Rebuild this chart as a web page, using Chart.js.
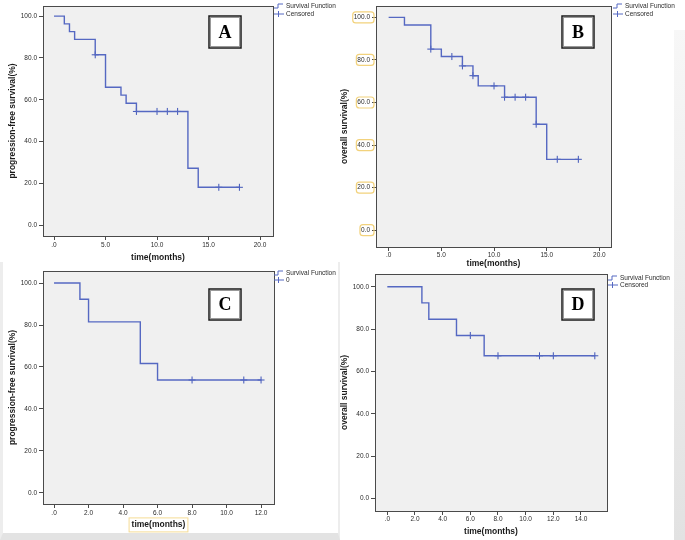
<!DOCTYPE html>
<html>
<head>
<meta charset="utf-8">
<script src="https://cdn.jsdelivr.net/npm/chart.js@4/dist/chart.umd.min.js"></script>
<style>
  body { margin: 0; background: #fff; }
  #wrap { position: relative; width: 685px; height: 540px; overflow: hidden; background: #fff; }
  canvas { position: absolute; }
  #c-frame { position: absolute; left: 0; top: 262px; width: 335px; height: 271px; border-left: 3px solid #ededed; border-bottom: 7px solid #e3e3e3; border-right: 2px solid #ededed; }
  #strip { position: absolute; left: 674px; top: 30px; width: 11px; height: 510px; background: linear-gradient(to bottom, #f7f7f7, #e2e2e2); }
</style>
</head>
<body>
<div id="wrap">
  <div id="c-frame"></div>
  <div id="strip"></div>
  <canvas id="chartA" width="340" height="268" style="left:0;top:0"></canvas>
  <canvas id="chartB" width="345" height="270" style="left:340px;top:0"></canvas>
  <canvas id="chartC" width="340" height="275" style="left:0;top:265px"></canvas>
  <canvas id="chartD" width="345" height="272" style="left:340px;top:268px"></canvas>
</div>
<script>
// Data
const yTicks = [0, 20, 40, 60, 80, 100];

// A - progression-free survival
const aTime = [0, 1, 1.5, 2, 4, 5, 6.5, 7, 8, 13, 14, 18];
const aSurv = [100, 96.3, 92.6, 88.9, 81.5, 66.0, 62.2, 58.3, 54.4, 27.2, 18.1, 18.1];
const aCensTime = [4, 8, 10, 11, 12, 16, 18];
const aCensSurv = [81.5, 54.4, 54.4, 54.4, 54.4, 18.1, 18.1];
const aXTicks = [0, 5, 10, 15, 20];

// B - overall survival
const bTime = [0, 1.5, 4, 5, 7, 8, 8.5, 11, 14, 15, 18];
const bSurv = [100, 96.4, 85.1, 81.6, 77.2, 72.6, 67.8, 62.5, 49.8, 33.3, 33.3];
const bCensTime = [4, 6, 7, 8, 10, 11, 12, 13, 14, 16, 18];
const bCensSurv = [85.1, 81.6, 77.2, 72.6, 67.8, 62.5, 62.5, 62.5, 49.8, 33.3, 33.3];
const bXTicks = [0, 5, 10, 15, 20];

// C - progression-free survival
const cTime = [0, 1.5, 2, 5, 6, 12];
const cSurv = [100, 92.3, 81.5, 61.7, 53.8, 53.8];
const cCensTime = [8, 11, 12];
const cCensSurv = [53.8, 53.8, 53.8];
const cXTicks = [0, 2, 4, 6, 8, 10, 12];

// D - overall survival
const dTime = [0, 2.5, 3, 5, 7, 15];
const dSurv = [100, 92.4, 84.7, 77.0, 67.4, 67.4];
const dCensTime = [6, 8, 11, 12, 15];
const dCensSurv = [77.0, 67.4, 67.4, 67.4, 67.4];
const dXTicks = [0, 2, 4, 6, 8, 10, 12, 14];

const BLUE = '#5568c2';
const TEXT = '#2b2b2b';
Chart.defaults.font.family = "'Liberation Sans', Arial, sans-serif";
Chart.defaults.color = TEXT;

// Draws plot background, frame, letter box, legend and highlight boxes
const kmDecor = {
    id: 'kmDecor',
    beforeDraw(chart, args, o) {
        const {ctx, chartArea: a} = chart;
        ctx.save();
        ctx.fillStyle = '#f0f0f0';
        ctx.fillRect(a.left, a.top, a.right - a.left, a.bottom - a.top);
        ctx.restore();
    },
    afterDraw(chart, args, o) {
        const {ctx, chartArea: a} = chart;
        ctx.save();
        // frame
        ctx.strokeStyle = '#4a4a4a';
        ctx.lineWidth = 1;
        ctx.strokeRect(Math.round(a.left) + 0.5, Math.round(a.top) + 0.5,
            Math.round(a.right - a.left), Math.round(a.bottom - a.top));

        // letter box
        const b = o.box;
        ctx.fillStyle = '#fff';
        ctx.fillRect(b.x, b.y, b.w, b.h);
        ctx.strokeStyle = '#999';
        ctx.lineWidth = 1;
        ctx.strokeRect(b.x + 1.5, b.y + 1.5, b.w - 3, b.h - 3);
        ctx.strokeStyle = '#1a1a1a';
        ctx.lineWidth = 1.5;
        ctx.strokeRect(b.x, b.y, b.w, b.h);
        ctx.fillStyle = '#000';
        ctx.font = "bold 18px 'Liberation Serif', 'Times New Roman', serif";
        ctx.textAlign = 'center';
        ctx.textBaseline = 'middle';
        ctx.fillText(o.letter, b.x + b.w / 2, b.y + b.h / 2 + 1);

        // legend
        const L = o.legend;
        ctx.strokeStyle = BLUE;
        ctx.lineWidth = 1;
        ctx.beginPath();
        ctx.moveTo(L.x, L.y1 + 2);
        ctx.lineTo(L.x + 4, L.y1 + 2);
        ctx.lineTo(L.x + 4, L.y1 - 2);
        ctx.lineTo(L.x + 9, L.y1 - 2);
        ctx.moveTo(L.x, L.y2);
        ctx.lineTo(L.x + 10, L.y2);
        ctx.moveTo(L.x + 4.5, L.y2 - 3);
        ctx.lineTo(L.x + 4.5, L.y2 + 3);
        ctx.stroke();
        ctx.fillStyle = TEXT;
        ctx.font = "6.5px 'Liberation Sans', Arial, sans-serif";
        ctx.textAlign = 'left';
        ctx.fillText('Survival Function', L.x + 12, L.y1);
        ctx.fillText(o.label2, L.x + 12, L.y2);

        // yellow highlight boxes round y tick labels
        if (o.yBoxes) {
            const ys = chart.scales.y;
            ctx.font = "6.5px 'Liberation Sans', Arial, sans-serif";
            ctx.strokeStyle = '#f2d27c';
            ctx.lineWidth = 1.2;
            yTicks.forEach(v => {
                const py = ys.getPixelForValue(v);
                const w = ctx.measureText(v.toFixed(1)).width;
                const right = a.left - 2;
                ctx.beginPath();
                ctx.roundRect(right - w - 5, py - 5.5, w + 5, 11, 3);
                ctx.stroke();
            });
        }
        // yellow box round x axis title
        if (o.xTitleBox) {
            const xs = chart.scales.x;
            ctx.font = "bold 8.5px 'Liberation Sans', Arial, sans-serif";
            const w = ctx.measureText('time(months)').width;
            const cx = (a.left + a.right) / 2;
            const cy = xs.bottom - o.xTitlePad - 5.1;
            ctx.strokeStyle = '#f5dc95';
            ctx.lineWidth = 1;
            ctx.strokeRect(cx - w / 2 - 2.5, cy - 7, w + 5, 14);
        }
        ctx.restore();
    }
};

function buildChart(id, o) {
    const el = document.getElementById(id);
    return new Chart(el, {
        data: {
            datasets: [{
                type: 'line',
                label: 'Survival Function',
                data: o.time.map((t, i) => ({x: t, y: o.surv[i]})),
                stepped: 'before',
                borderColor: BLUE,
                borderWidth: 1.4,
                pointRadius: 0,
                fill: false
            }, {
                type: 'scatter',
                label: o.label2,
                data: o.censTime.map((t, i) => ({x: t, y: o.censSurv[i]})),
                pointStyle: 'cross',
                pointRadius: 3.5,
                borderColor: '#3f55b8',
                borderWidth: 1,
                showLine: false
            }]
        },
        options: {
            responsive: false,
            animation: false,
            devicePixelRatio: 1,
            layout: {
                padding: {left: 0, top: o.padTop, right: o.padRight, bottom: 0}
            },
            plugins: {
                legend: {display: false},
                tooltip: {enabled: false},
                kmDecor: o
            },
            scales: {
                x: {
                    type: 'linear',
                    min: o.xMin,
                    max: o.xMax,
                    afterBuildTicks: s => { s.ticks = o.xTicks.map(v => ({value: v})); },
                    afterFit: s => { s.height = o.xH; },
                    border: {display: false},
                    grid: {drawOnChartArea: false, drawTicks: true, tickLength: 4, color: '#4a4a4a'},
                    ticks: {
                        padding: o.xTickPad,
                        maxRotation: 0,
                        color: TEXT,
                        font: {size: 6.5},
                        callback: v => v === 0 ? '.0' : v.toFixed(1)
                    },
                    title: {
                        display: true,
                        text: 'time(months)',
                        color: '#1a1a1a',
                        font: {size: 8.5, weight: 'bold'},
                        padding: {top: 0, bottom: o.xTitlePad}
                    }
                },
                y: {
                    type: 'linear',
                    min: o.yMin,
                    max: o.yMax,
                    afterBuildTicks: s => { s.ticks = yTicks.map(v => ({value: v})); },
                    afterFit: s => { s.width = o.yW; },
                    border: {display: false},
                    grid: {drawOnChartArea: false, drawTicks: true, tickLength: 4, color: '#4a4a4a'},
                    ticks: {
                        padding: 2,
                        color: TEXT,
                        font: {size: 6.5},
                        callback: v => v.toFixed(1)
                    },
                    title: {
                        display: true,
                        text: o.yTitle,
                        color: '#1a1a1a',
                        font: {size: 8.5, weight: 'bold'},
                        padding: {top: o.yTitlePad, bottom: 0}
                    }
                }
            }
        },
        plugins: [kmDecor]
    });
}

buildChart('chartA', {
    time: aTime, surv: aSurv, censTime: aCensTime, censSurv: aCensSurv, xTicks: aXTicks,
    xMin: -1.07, xMax: 21.26, yMin: -5.2, yMax: 104.9,
    yTitle: 'progression-free survival(%)', label2: 'Censored', letter: 'A',
    padTop: 3, padRight: 67, yW: 43, xH: 32, xTickPad: 1, xTitlePad: 5, yTitlePad: 8,
    box: {x: 209, y: 16, w: 32, h: 32},
    legend: {x: 274, y1: 6, y2: 14}
});

buildChart('chartB', {
    time: bTime, surv: bSurv, censTime: bCensTime, censSurv: bCensSurv, xTicks: bXTicks,
    xMin: -1.2, xMax: 21.1, yMin: -7.9, yMax: 105.4,
    yTitle: 'overall survival(%)', label2: 'Censored', letter: 'B',
    padTop: 3, padRight: 74, yW: 36, xH: 23, xTickPad: 0, xTitlePad: 1.5, yTitlePad: 0,
    box: {x: 222, y: 16, w: 32, h: 32},
    legend: {x: 273, y1: 6, y2: 14},
    yBoxes: true
});

buildChart('chartC', {
    time: cTime, surv: cSurv, censTime: cCensTime, censSurv: cCensSurv, xTicks: cXTicks,
    xMin: -0.64, xMax: 12.75, yMin: -5.3, yMax: 105.8,
    yTitle: 'progression-free survival(%)', label2: '0', letter: 'C',
    padTop: 3, padRight: 66, yW: 43, xH: 36, xTickPad: 1, xTitlePad: 10, yTitlePad: 8,
    box: {x: 209, y: 24, w: 32, h: 31},
    legend: {x: 274, y1: 8, y2: 15},
    xTitleBox: true
});

buildChart('chartD', {
    time: dTime, surv: dSurv, censTime: dCensTime, censSurv: dCensSurv, xTicks: dXTicks,
    xMin: -0.89, xMax: 15.88, yMin: -5.95, yMax: 106.1,
    yTitle: 'overall survival(%)', label2: 'Censored', letter: 'D',
    padTop: 4, padRight: 78, yW: 35, xH: 29, xTickPad: 0, xTitlePad: 3, yTitlePad: 0,
    box: {x: 222, y: 21, w: 32, h: 31},
    legend: {x: 268, y1: 10, y2: 17}
});
</script>
</body>
</html>
